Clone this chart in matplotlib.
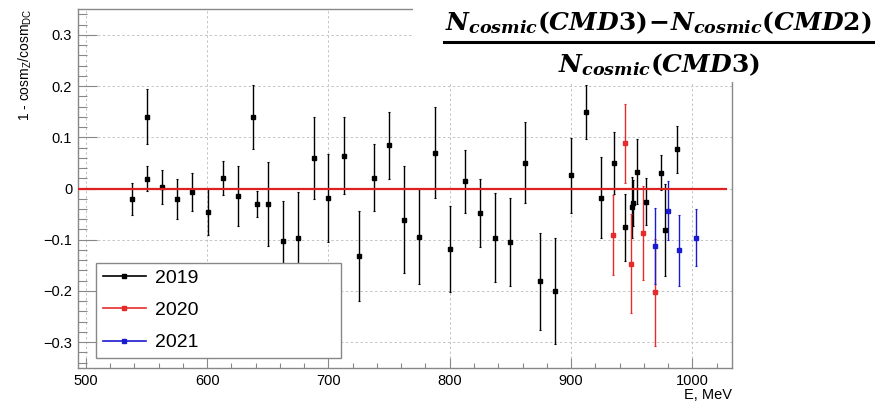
import matplotlib
matplotlib.use("Agg")
import matplotlib.pyplot as plt
from matplotlib.lines import Line2D
from matplotlib.patches import Rectangle
from matplotlib.ticker import MultipleLocator, FuncFormatter

plt.rcParams['font.family'] = ['Liberation Sans', 'DejaVu Sans']
plt.rcParams['mathtext.fontset'] = 'custom'
plt.rcParams['mathtext.it'] = 'DejaVu Serif:italic:bold'
plt.rcParams['mathtext.rm'] = 'DejaVu Serif:bold'
plt.rcParams['mathtext.bf'] = 'DejaVu Serif:bold'
plt.rcParams['mathtext.sf'] = 'Liberation Sans'

# ---------------- data ----------------
e_2019 = [537.7, 550.0, 550.0, 562.7, 575.0, 587.4, 600.3, 613.0, 625.3, 637.7,
          641.0, 650.4, 662.8, 675.0, 687.8, 699.8, 712.5, 724.9, 737.5, 749.9,
          762.0, 774.9, 787.5, 800.2, 812.3, 824.9, 837.3, 849.7, 862.3, 874.4,
          887.0, 899.7, 912.0, 924.4, 935.7, 944.5, 950.0, 951.5, 954.4, 962.0,
          974.5, 977.5, 987.4]
y_2019 = [-0.020, 0.140, 0.019, 0.003, -0.020, -0.007, -0.045, 0.021, -0.015, 0.140,
          -0.030, -0.030, -0.102, -0.097, 0.060, -0.018, 0.064, -0.131, 0.021, 0.084,
          -0.061, -0.094, 0.070, -0.119, 0.014, -0.048, -0.096, -0.104, 0.050, -0.181,
          -0.200, 0.026, 0.150, -0.018, 0.050, -0.076, -0.037, -0.029, 0.033, -0.026,
          0.031, -0.081, 0.077]
err_2019 = [0.031, 0.054, 0.024, 0.033, 0.039, 0.037, 0.045, 0.033, 0.058, 0.063,
            0.025, 0.082, 0.078, 0.090, 0.080, 0.086, 0.075, 0.088, 0.065, 0.066,
            0.105, 0.093, 0.089, 0.084, 0.062, 0.067, 0.087, 0.086, 0.079, 0.095,
            0.104, 0.073, 0.053, 0.079, 0.060, 0.065, 0.060, 0.045, 0.063, 0.046,
            0.034, 0.089, 0.046]

e_2020 = [934.6, 944.5, 949.5, 959.6, 969.2]
y_2020 = [-0.090, 0.088, -0.147, -0.087, -0.203]
err_2020 = [0.078, 0.078, 0.097, 0.092, 0.104]

e_2021 = [969.2, 979.7, 989.3, 1003.0]
y_2021 = [-0.112, -0.043, -0.121, -0.096]
err_2021 = [0.074, 0.057, 0.069, 0.055]

series_labels = ['2019', '2020', '2021']
series_colors = ['black', '#e52b2b', '#1a1ad0']

ref_y = 0.0
ref_x = (493.2, 1029.0)

x_label = 'E, MeV'
y_label = r'1 - cosm$_{\mathsf{Z}}$/cosm$_{\mathsf{DC}}$'
formula_num = r'$N_{cosmic}(CMD3)\!-\!N_{cosmic}(CMD2)$'
formula_den = r'$N_{cosmic}(CMD3)$'

# ---------------- figure ----------------
W, H = 877, 401
fig = plt.figure(figsize=(W / 100, H / 100), dpi=100)
L, R, T, B = 77.7, 731.7, 9.3, 367.7
ax = fig.add_axes([L / W, 1 - B / H, (R - L) / W, (B - T) / H])

ax.set_xlim(493.2, 1032.5)
ax.set_ylim(-0.35, 0.35)

ax.grid(True, which='major', color='#c4c4c4', linestyle=(0, (2.5, 2.5)), lw=0.7)
ax.set_axisbelow(True)

ax.hlines(ref_y, ref_x[0], ref_x[1], color='#dd2020', lw=1.6, zorder=3)

for e, y, er, c in [(e_2019, y_2019, err_2019, series_colors[0]),
                    (e_2020, y_2020, err_2020, series_colors[1]),
                    (e_2021, y_2021, err_2021, series_colors[2])]:
    ax.errorbar(e, y, yerr=er, fmt='s', ms=3, color=c, ecolor=c, elinewidth=1.0,
                capsize=1, capthick=0.8, zorder=2.5)

for sp in ax.spines.values():
    sp.set_color('#888888')
    sp.set_linewidth(1.0)

ax.xaxis.set_major_locator(MultipleLocator(100))
ax.xaxis.set_minor_locator(MultipleLocator(20))
ax.yaxis.set_major_locator(MultipleLocator(0.1))
ax.yaxis.set_minor_locator(MultipleLocator(0.02))
ax.yaxis.set_major_formatter(FuncFormatter(
    lambda v, p: '0' if abs(v) < 1e-9 else f'{v:g}'.replace('-', '\u2212')))

ax.tick_params(axis='x', which='major', direction='in', length=7.5, width=0.8,
               color='#888888', labelsize=10.5, pad=4.5)
ax.tick_params(axis='x', which='minor', direction='in', length=3.8, width=0.8,
               color='#888888')
ax.tick_params(axis='y', which='major', direction='in', length=13.5, width=0.8,
               color='#888888', labelsize=10.5, pad=4)
ax.tick_params(axis='y', which='minor', direction='in', length=6.8, width=0.8,
               color='#888888')

ax.set_xlabel(x_label, loc='right', fontsize=10.5)
ax.xaxis.set_label_coords(1.0, -0.058)
ax.set_ylabel(y_label, loc='top', fontsize=10)
ax.yaxis.set_label_coords(-0.067, 1.003)

handles = [Line2D([], [], color=c, marker='s', ms=3, lw=1.2) for c in series_colors]
leg = ax.legend(handles, series_labels, loc='lower left',
                bbox_to_anchor=(96 / W, 1 - 358.3 / H, 245 / W, (358.3 - 264) / H),
                bbox_transform=fig.transFigure, mode='expand', borderaxespad=0,
                fontsize=14, fancybox=False, framealpha=1, edgecolor='#888888',
                handlelength=2.2, handletextpad=0.5, labelspacing=0.75, borderpad=0.35)
leg.get_frame().set_linewidth(1.0)
leg.set_zorder(10)

# formula overlay (white patch covering top-right)
fig.add_artist(Rectangle((413 / W, 1 - 82 / H), (W - 413) / W, 82 / H,
                         transform=fig.transFigure, facecolor='white',
                         edgecolor='none', zorder=5))
fig.text(658.5 / W, 1 - 30 / H, formula_num, ha='center', va='baseline',
         fontsize=18, zorder=6)
fig.add_artist(Line2D([444 / W, 873 / W], [1 - 41.7 / H] * 2,
                      transform=fig.transFigure, color='black', lw=2.2, zorder=6))
fig.text(659 / W, 1 - 72 / H, formula_den, ha='center', va='baseline',
         fontsize=18, zorder=6)

fig.savefig('out.png', dpi=100)
